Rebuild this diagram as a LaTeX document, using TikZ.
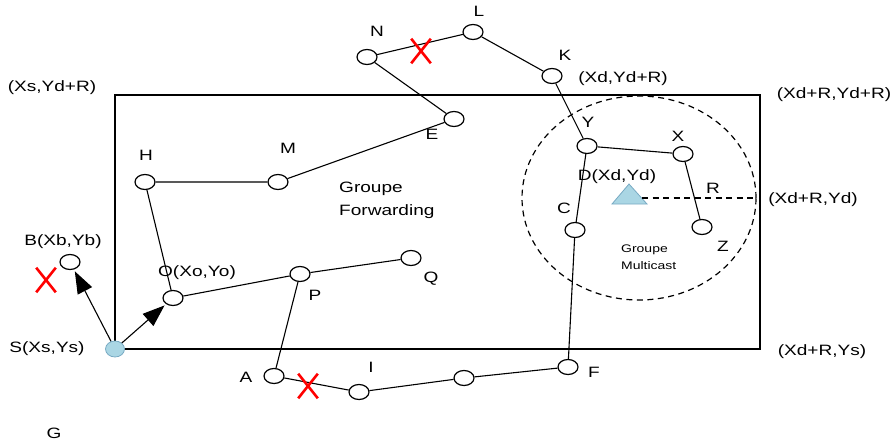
\documentclass[tikz,border=0pt]{standalone}
\usepackage{fontspec}
\setmainfont{Liberation Sans}[FakeStretch=1.27]
\usetikzlibrary{shapes.geometric,shapes.misc,arrows.meta}

\definecolor{srcblue}{RGB}{170,214,228}
\definecolor{srcline}{RGB}{120,170,195}

\tikzset{
  hop/.style={ellipse, draw, line width=1.2pt, fill=white,
    minimum width=20pt, minimum height=15pt, inner sep=0pt},
  txt/.style={font=\fontsize{15}{18}\selectfont, inner sep=0pt},
  small/.style={font=\fontsize{11}{17}\selectfont, inner sep=0pt, align=left},
  lost/.style={cross out, draw=red, line width=2.6pt,
    minimum width=17pt, minimum height=22pt, inner sep=0pt},
  link/.style={line width=1.1pt},
  sendlink/.style={line width=1.1pt, arrows={-Triangle[length=22pt,width=16pt]}, shorten >=2pt},
}

\begin{document}
\begin{tikzpicture}[x=1pt, y=-1pt]
    \useasboundingbox (0,0) rectangle (893,447);

    % forwarding zone
    \draw[line width=1.3pt] (115,95) rectangle (760,349);

    % multicast zone around D
    \node[ellipse, draw, dashed, dash pattern=on 6pt off 4.5pt, line width=1.2pt,
      minimum width=234pt, minimum height=204pt, inner sep=0pt] (zone) at (639,198) {};

    % mobile nodes
    \node[hop] (N) at (367,57) {};
    \node[hop] (L) at (473,32) {};
    \node[hop] (K) at (552,76) {};
    \node[hop] (E) at (454,119) {};
    \node[hop] (H) at (145,182) {};
    \node[hop] (M) at (278,182) {};
    \node[hop] (Y) at (587,146) {};
    \node[hop] (X) at (683,154) {};
    \node[hop] (C) at (575,230) {};
    \node[hop] (Z) at (702,227) {};
    \node[hop] (B) at (70,262) {};
    \node[hop] (O) at (173,298) {};
    \node[hop] (P) at (300,274) {};
    \node[hop] (Q) at (411,258) {};
    \node[hop] (A) at (274,376) {};
    \node[hop] (I) at (359,392) {};
    \node[hop] (J) at (464,378) {};
    \node[hop] (F) at (568,367) {};

    % links
    \draw[link] (N) -- (L) -- (K) -- (Y) -- (X) -- (Z);
    \draw[link] (N) -- (E) -- (M) -- (H) -- (O) -- (P) -- (Q);
    \draw[link] (P) -- (A) -- (I) -- (J) -- (F) -- (C) -- (Y);

    % source and destination
    \coordinate (S0) at (115,349);
    \draw[sendlink] (S0) -- (B);
    \draw[sendlink] (S0) -- (O);
    \node[ellipse, fill=srcblue, draw=srcline, line width=0.8pt,
      minimum width=19pt, minimum height=16pt, inner sep=0pt] (S) at (S0) {};
    \filldraw[fill=srcblue, draw=srcline, line width=0.8pt]
      (612,204) -- (629,184) -- (647,204) -- cycle;
    \coordinate (Dr) at (642,198);
    \draw[dashed, dash pattern=on 6pt off 4.5pt, line width=1.2pt] (Dr) -- (zone.east);

    % broken links
    \node[lost] (x1) at (421,51) {};
    \node[lost] (x2) at (308,386) {};
    \node[lost] (x3) at (46,280) {};

    % labels
    \node[txt] (tN) at (377,31) {N};
    \node[txt] (tL) at (479,11) {L};
    \node[txt] (tK) at (565,55) {K};
    \node[txt] (tE) at (432,134) {E};
    \node[txt] (tH) at (146,155) {H};
    \node[txt] (tM) at (288,148) {M};
    \node[txt] (tY) at (588,122) {Y};
    \node[txt] (tX) at (678,136) {X};
    \node[txt] (tC) at (564,208) {C};
    \node[txt] (tZ) at (723,246) {Z};
    \node[txt] (tR) at (713,188) {R};
    \node[txt] (tP) at (315,295) {P};
    \node[txt] (tQ) at (431,279) {Q};
    \node[txt] (tA) at (246,377) {A};
    \node[txt] (tI) at (371,367) {I};
    \node[txt] (tF) at (594,372) {F};
    \node[txt] (tG) at (54,433) {G};
    \node[txt] (tD) at (617,177) {D(Xd,Yd)};
    \node[txt] (tB) at (63,242) {B(Xb,Yb)};
    \node[txt] (tO) at (197,273) {O(Xo,Yo)};
    \node[txt] (tS) at (47,349) {S(Xs,Ys)};

    % corners of the zone
    \node[txt] (c1) at (52,88) {(Xs,Yd+R)};
    \node[txt] (c2) at (623,79) {(Xd,Yd+R)};
    \node[txt] (c3) at (834,95) {(Xd+R,Yd+R)};
    \node[txt] (c4) at (813,200) {(Xd+R,Yd)};
    \node[txt] (c5) at (822,352) {(Xd+R,Ys)};

    \node[txt, align=left, anchor=west, font=\fontsize{15}{23}\selectfont]
      (fwd) at (339,200) {Groupe\\Forwarding};
    \node[small, anchor=west] (mc) at (621,257) {Groupe\\Multicast};

\end{tikzpicture}
\end{document}
